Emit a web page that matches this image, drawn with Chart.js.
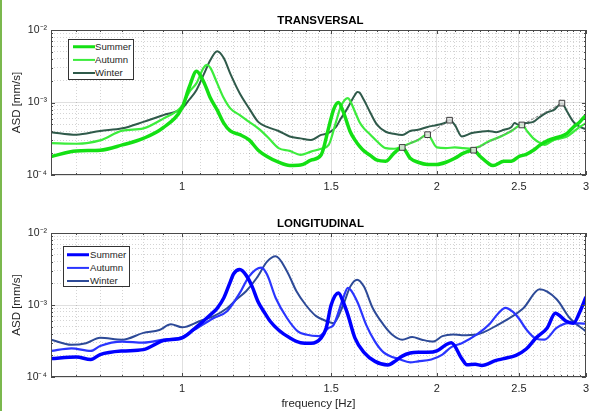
<!DOCTYPE html>
<html lang="en">
<head>
<meta charset="UTF-8">
<title>ASD by season</title>
<script src="https://cdn.jsdelivr.net/npm/chart.js"></script>
<style>
  body { margin: 0; background: #fff; font-family: "Liberation Sans", Arial, sans-serif; }
  #wrap { position: relative; width: 594px; height: 411px; overflow: hidden; background: #fff; }
  canvas { position: absolute; left: 0; }
  .ttl { position: absolute; left: 51px; width: 539px; height: 14px; line-height: 14px; text-align: center; font-weight: bold; font-size: 11.5px; color: #000; }
  .leg { position: absolute; box-sizing: border-box; background: #fff; border: 1px solid #333; font-size: 9.6px; color: #262626; }
  .leg .row { position: relative; height: 13px; line-height: 13px; }
  .leg .ln { position: absolute; width: 22px; top: 50%; transform: translateY(-50%); }
  .leg .tx { position: absolute; }
  .edge { position: absolute; left: 0; top: 0; width: 2px; height: 411px; background: #7bb84e; }
</style>
</head>
<body>
<div id="wrap">
  <canvas id="trans" width="594" height="200" style="top:0"></canvas>
  <canvas id="longi" width="594" height="211" style="top:200px"></canvas>
  <div class="ttl" style="top:13px">TRANSVERSAL</div>
  <div class="ttl" style="top:216px">LONGITUDINAL</div>
  <div class="leg" id="legT" style="left:68px;top:39px;width:66px;height:41px"></div>
  <div class="leg" id="legL" style="left:63px;top:246px;width:67px;height:41px"></div>
  <div class="edge"></div>
</div>

<script>
// ---- axis ticks ----
const xMajorTicks = [1, 1.5, 2, 2.5, 3];
const yDecadeTicks = [1e-4, 1e-3, 1e-2];
const yDecadeLabels = ['10\u207B\u2074', '10\u207B\u00B3', '10\u207B\u00B2'];
const seasons = ['Summer', 'Autumn', 'Winter'];

// ---- TRANSVERSAL ----
const tSummerF = [0.70,0.75,0.80,0.85,0.90,0.95,1.00,1.02,1.04,1.06,1.08,1.10,1.12,1.14,1.17,1.20,1.23,1.26,1.30,1.34,1.38,1.42,1.46,1.49,1.51,1.53,1.55,1.58,1.60,1.62,1.64,1.67,1.70,1.74,1.78,1.82,1.86,1.90,1.95,2.00,2.05,2.10,2.15,2.21,2.25,2.30,2.33,2.40,2.45,2.50,2.55,2.60,2.65,2.70,2.75,2.80,2.85,2.90,2.95,3.00];
const tSummerV = [1.8e-4,2.15e-4,2.2e-4,2.6e-4,3.2e-4,4.5e-4,8.5e-4,1.65e-3,2.7e-3,1.95e-3,1.15e-3,7.9e-4,5.2e-4,4.05e-4,3.6e-4,3.05e-4,2.2e-4,1.8e-4,1.5e-4,1.35e-4,1.37e-4,1.6e-4,1.9e-4,4.5e-4,8.0e-4,1.0e-3,7.5e-4,3.95e-4,3.05e-4,2.5e-4,2.15e-4,1.85e-4,1.6e-4,1.55e-4,2.0e-4,2.4e-4,1.7e-4,1.5e-4,1.4e-4,1.4e-4,1.5e-4,1.7e-4,2.0e-4,2.2e-4,1.8e-4,1.45e-4,1.35e-4,1.55e-4,1.55e-4,1.8e-4,1.93e-4,2.2e-4,2.6e-4,2.95e-4,3.2e-4,3.4e-4,3.75e-4,4.6e-4,5.4e-4,6.7e-4];

const tAutumnF = [0.70,0.75,0.80,0.85,0.90,0.95,1.00,1.02,1.04,1.06,1.07,1.08,1.10,1.12,1.14,1.17,1.20,1.23,1.26,1.30,1.34,1.38,1.42,1.46,1.49,1.52,1.54,1.57,1.58,1.60,1.62,1.64,1.67,1.70,1.74,1.78,1.82,1.86,1.90,1.95,2.00,2.05,2.10,2.15,2.20,2.25,2.30,2.35,2.40,2.45,2.52,2.56,2.60,2.65,2.68,2.75,2.80,2.85,2.90,2.95,3.00];
const tAutumnV = [2.75e-4,2.7e-4,3.0e-4,4.1e-4,4.4e-4,6.0e-4,9.0e-4,1.4e-3,1.85e-3,3.0e-3,3.3e-3,3.0e-3,1.85e-3,1.15e-3,8.3e-4,6.7e-4,5.4e-4,4.4e-4,3.4e-4,2.35e-4,2.15e-4,1.9e-4,2.1e-4,2.3e-4,2.6e-4,5.4e-4,8.8e-4,1.15e-3,1.05e-3,7.5e-4,5.4e-4,4.4e-4,3.57e-4,2.9e-4,2.35e-4,2.3e-4,2.5e-4,2.75e-4,3.05e-4,3.6e-4,2.4e-4,2.35e-4,2.4e-4,2.35e-4,2.3e-4,2.5e-4,2.9e-4,3.2e-4,3.57e-4,4.05e-4,4.9e-4,3.95e-4,3.2e-4,2.75e-4,2.6e-4,3.05e-4,3.2e-4,3.4e-4,3.95e-4,4.6e-4,5.2e-4];

const tWinterF = [0.70,0.75,0.80,0.85,0.90,0.95,1.00,1.02,1.04,1.06,1.08,1.10,1.12,1.14,1.17,1.20,1.23,1.26,1.30,1.34,1.38,1.42,1.46,1.49,1.52,1.54,1.56,1.58,1.60,1.61,1.62,1.64,1.67,1.70,1.74,1.78,1.82,1.86,1.90,1.95,2.00,2.05,2.07,2.10,2.14,2.20,2.25,2.30,2.35,2.40,2.45,2.47,2.50,2.55,2.60,2.65,2.70,2.75,2.81,2.85,2.90,2.95,3.00];
const tWinterV = [3.9e-4,3.6e-4,4.05e-4,4.4e-4,5.4e-4,6.7e-4,8.3e-4,1.1e-3,1.49e-3,2.4e-3,3.86e-3,5.1e-3,4.1e-3,2.5e-3,1.33e-3,8.3e-4,5.4e-4,4.6e-4,4.05e-4,3.4e-4,3.2e-4,3.05e-4,3.57e-4,3.8e-4,4.6e-4,6.0e-4,7.5e-4,9.8e-4,1.27e-3,1.4e-3,1.37e-3,1.08e-3,7.1e-4,4.9e-4,3.95e-4,3.7e-4,3.57e-4,4.05e-4,4.2e-4,4.6e-4,4.9e-4,5.3e-4,5.74e-4,4.9e-4,3.4e-4,3.8e-4,3.95e-4,4.05e-4,3.9e-4,4.2e-4,4.6e-4,5.2e-4,4.9e-4,5.2e-4,5.4e-4,6.4e-4,7.3e-4,7.9e-4,9.8e-4,7.5e-4,5.4e-4,4.6e-4,4.3e-4];

// picked peaks (square markers, dashed link)
const tPickAF = [1.82, 1.95, 2.07];
const tPickAV = [2.4e-4, 3.6e-4, 5.7e-4];
const tPickBF = [2.21, 2.52, 2.81];
const tPickBV = [2.2e-4, 4.9e-4, 9.8e-4];

// ---- LONGITUDINAL ----
const lSummerF = [0.70,0.75,0.78,0.80,0.85,0.90,0.95,1.00,1.03,1.06,1.08,1.10,1.12,1.14,1.15,1.17,1.19,1.21,1.23,1.25,1.27,1.30,1.34,1.38,1.42,1.46,1.48,1.50,1.53,1.55,1.57,1.60,1.64,1.69,1.75,1.79,1.82,1.86,1.90,1.95,2.00,2.05,2.08,2.14,2.17,2.22,2.26,2.35,2.40,2.48,2.55,2.62,2.70,2.76,2.84,2.90,2.95,3.00];
const lSummerV = [1.8e-4,1.9e-4,1.75e-4,2.05e-4,2.3e-4,2.4e-4,3.2e-4,3.5e-4,4.5e-4,6.0e-4,7.3e-4,9.0e-4,1.25e-3,2.1e-3,2.7e-3,3.1e-3,2.6e-3,1.8e-3,1.1e-3,8.0e-4,6.0e-4,4.5e-4,3.5e-4,3.0e-4,2.95e-4,3.5e-4,4.8e-4,1.0e-3,1.47e-3,1.1e-3,7.3e-4,3.5e-4,2.2e-4,1.65e-4,1.47e-4,1.7e-4,1.95e-4,2.15e-4,2.2e-4,2.2e-4,2.3e-4,2.8e-4,3.0e-4,1.8e-4,1.48e-4,1.5e-4,1.45e-4,1.7e-4,1.8e-4,2.0e-4,2.45e-4,3.5e-4,4.8e-4,7.7e-4,6.0e-4,5.6e-4,8.0e-4,1.3e-3];

const lAutumnF = [0.70,0.74,0.78,0.80,0.85,0.90,0.95,1.00,1.03,1.09,1.13,1.17,1.20,1.24,1.26,1.29,1.33,1.37,1.40,1.45,1.49,1.51,1.55,1.57,1.61,1.65,1.69,1.73,1.81,1.86,1.90,1.97,2.03,2.08,2.14,2.23,2.31,2.36,2.41,2.46,2.50,2.55,2.62,2.68,2.77,2.86,3.00];
const lAutumnV = [2.3e-4,2.5e-4,2.3e-4,2.7e-4,3.1e-4,3.0e-4,3.3e-4,3.6e-4,4.4e-4,6.6e-4,8.2e-4,1.47e-3,2.5e-3,3.3e-3,2.65e-3,1.25e-3,6.6e-4,4.3e-4,3.9e-4,3.7e-4,4.8e-4,5.3e-4,1.25e-3,1.73e-3,1.12e-3,5.3e-4,3.1e-4,2.2e-4,1.75e-4,1.6e-4,1.65e-4,1.75e-4,2.05e-4,2.6e-4,2.95e-4,3.9e-4,5.5e-4,7.5e-4,9.1e-4,8.0e-4,6.5e-4,4.6e-4,3.4e-4,3.3e-4,4.8e-4,5.6e-4,5.5e-4];

const lWinterF = [0.70,0.74,0.77,0.80,0.85,0.90,0.94,0.97,1.00,1.05,1.09,1.13,1.16,1.19,1.225,1.26,1.29,1.33,1.365,1.40,1.44,1.48,1.51,1.55,1.58,1.61,1.64,1.68,1.73,1.77,1.82,1.87,1.92,1.98,2.03,2.09,2.14,2.23,2.36,2.53,2.645,2.77,2.87,3.00];
const lWinterV = [3.3e-4,2.8e-4,2.95e-4,3.5e-4,3.3e-4,4.1e-4,4.5e-4,5.4e-4,4.9e-4,6.0e-4,7.0e-4,9.0e-4,1.2e-3,1.55e-3,2.37e-3,4.0e-3,4.75e-3,2.95e-3,1.55e-3,1.0e-3,7.0e-4,6.0e-4,5.6e-4,1.0e-3,1.8e-3,2.25e-3,1.8e-3,9.0e-4,5.3e-4,3.9e-4,3.3e-4,3.6e-4,3.3e-4,3.1e-4,3.7e-4,3.9e-4,3.8e-4,3.9e-4,5.3e-4,9.0e-4,1.65e-3,1.2e-3,6.6e-4,4.3e-4];

// ---- minor grid positions (every 0.05 Hz, 1..9 per decade) ----
const xMinorTicks = [];
for (let k = 70; k <= 300; k += 5) xMinorTicks.push(k / 100);
const yMinorTicks = [];
[1e-4, 1e-3].forEach(d => { for (let m = 1; m <= 9; m++) yMinorTicks.push(m * d); });
yMinorTicks.push(1e-2);

const isMajorX = v => xMajorTicks.some(m => Math.abs(m - v) < 1e-6);
const isDecade = v => yDecadeTicks.some(d => Math.abs(v / d - 1) < 1e-6);

Chart.defaults.font.family = '"Liberation Sans", Arial, Helvetica, sans-serif';
Chart.defaults.color = '#262626';

const pts = (f, v) => f.map((x, i) => ({ x: x, y: v[i] }));

// matlab-ish box with inward ticks
const axesBox = {
  id: 'axesBox',
  afterDatasetsDraw(chart) {
    const { ctx, chartArea: a, scales: { x, y } } = chart;
    ctx.save();
    ctx.strokeStyle = '#4a4a4a';
    ctx.lineWidth = 1;
    ctx.beginPath();
    xMinorTicks.forEach(v => {
      const px = Math.round(x.getPixelForValue(v)) + 0.5;
      const len = isMajorX(v) ? 4 : 2;
      ctx.moveTo(px, a.bottom); ctx.lineTo(px, a.bottom - len);
      ctx.moveTo(px, a.top); ctx.lineTo(px, a.top + len);
    });
    yMinorTicks.forEach(v => {
      const py = Math.round(y.getPixelForValue(v)) + 0.5;
      const len = isDecade(v) ? 4 : 2;
      ctx.moveTo(a.left, py); ctx.lineTo(a.left + len, py);
      ctx.moveTo(a.right, py); ctx.lineTo(a.right - len, py);
    });
    ctx.stroke();
    ctx.strokeRect(Math.round(a.left) + 0.5, Math.round(a.top) + 0.5,
      Math.round(a.right - a.left) - 1, Math.round(a.bottom - a.top) - 1);
    ctx.restore();
  }
};

function makePanel(id, padTop, xAxisH, showXTitle, series, picks) {
  const datasets = [];
  picks.forEach(p => datasets.push({
    data: pts(p.f, p.v), borderColor: '#808080', borderWidth: 1, borderDash: [3, 2],
    pointStyle: 'rect', pointRadius: 4, pointBorderColor: '#3c3c3c', pointBorderWidth: 1,
    pointBackgroundColor: 'rgba(230,230,230,0.85)', tension: 0
  }));
  series.forEach(s => datasets.push({
    data: pts(s.f, s.v), borderColor: s.color, borderWidth: s.width,
    pointRadius: 0, cubicInterpolationMode: 'monotone'
  }));

  new Chart(document.getElementById(id), {
    type: 'line',
    data: { datasets },
    options: {
      responsive: false,
      animation: false,
      events: [],
      layout: { padding: { top: padTop, right: 4, bottom: 0, left: 0 } },
      plugins: { legend: { display: false }, tooltip: { enabled: false } },
      scales: {
        x: {
          type: 'logarithmic', min: 0.7, max: 3,
          afterBuildTicks: s => { s.ticks = xMinorTicks.map(v => ({ value: v })); },
          afterFit: s => { s.height = xAxisH; },
          ticks: {
            autoSkip: false, maxRotation: 0, minRotation: 0, padding: 5,
            font: { size: 11 }, color: '#262626',
            callback: v => { const m = xMajorTicks.find(t => Math.abs(t - v) < 1e-6); return m === undefined ? '' : String(m); }
          },
          grid: {
            drawTicks: false, lineWidth: 1,
            color: c => (c.tick && isMajorX(c.tick.value)) ? 'rgba(38,38,38,0.14)' : 'rgba(38,38,38,0.2)'
          },
          border: { display: false, dash: c => (c.tick && isMajorX(c.tick.value)) ? [] : [1, 2] },
          title: { display: showXTitle, text: 'frequency [Hz]', font: { size: 11.5 }, color: '#262626', padding: { top: 0, bottom: 0 } }
        },
        y: {
          type: 'logarithmic', min: 1e-4, max: 1e-2,
          afterBuildTicks: s => { s.ticks = yMinorTicks.map(v => ({ value: v })); },
          afterFit: s => { s.width = 51; },
          ticks: {
            autoSkip: false, padding: 4, font: { size: 10.5 }, color: '#262626',
            callback: v => { const i = yDecadeTicks.findIndex(d => Math.abs(v / d - 1) < 1e-6); return i < 0 ? '' : yDecadeLabels[i]; }
          },
          grid: {
            drawTicks: false, lineWidth: 1,
            color: c => (c.tick && isDecade(c.tick.value)) ? 'rgba(38,38,38,0.14)' : 'rgba(38,38,38,0.2)'
          },
          border: { display: false, dash: c => (c.tick && isDecade(c.tick.value)) ? [] : [1, 2] },
          title: { display: true, text: 'ASD [mm/s]', font: { size: 11.5 }, color: '#262626', padding: { top: 10, bottom: 0 } }
        }
      }
    },
    plugins: [axesBox]
  });
}

function makeLegend(id, series, lineLeft, textLeft, padTop) {
  const box = document.getElementById(id);
  box.style.paddingTop = padTop + 'px';
  series.forEach((s, i) => {
    const row = document.createElement('div');
    row.className = 'row';
    row.innerHTML = `<span class="ln" style="left:${lineLeft}px;height:${s.width}px;background:${s.color}"></span>` +
      `<span class="tx" style="left:${textLeft}px">${seasons[i]}</span>`;
    box.appendChild(row);
  });
}

const transSeries = [
  { f: tSummerF, v: tSummerV, color: '#14e014', width: 3.5 },
  { f: tAutumnF, v: tAutumnV, color: '#3cec3c', width: 2.2 },
  { f: tWinterF, v: tWinterV, color: '#2f5a4a', width: 2 }
];
const longSeries = [
  { f: lSummerF, v: lSummerV, color: '#0000ff', width: 3.5 },
  { f: lAutumnF, v: lAutumnV, color: '#2a35ff', width: 2.2 },
  { f: lWinterF, v: lWinterV, color: '#2d4a98', width: 2 }
];

makePanel('trans', 30, 25, false, transSeries,
  [{ f: tPickAF, v: tPickAV }, { f: tPickBF, v: tPickBV }]);
makePanel('longi', 33, 34, true, longSeries, []);

makeLegend('legT', transSeries, 4, 26, 0);
makeLegend('legL', longSeries, 3, 26, 1);
</script>
</body>
</html>
